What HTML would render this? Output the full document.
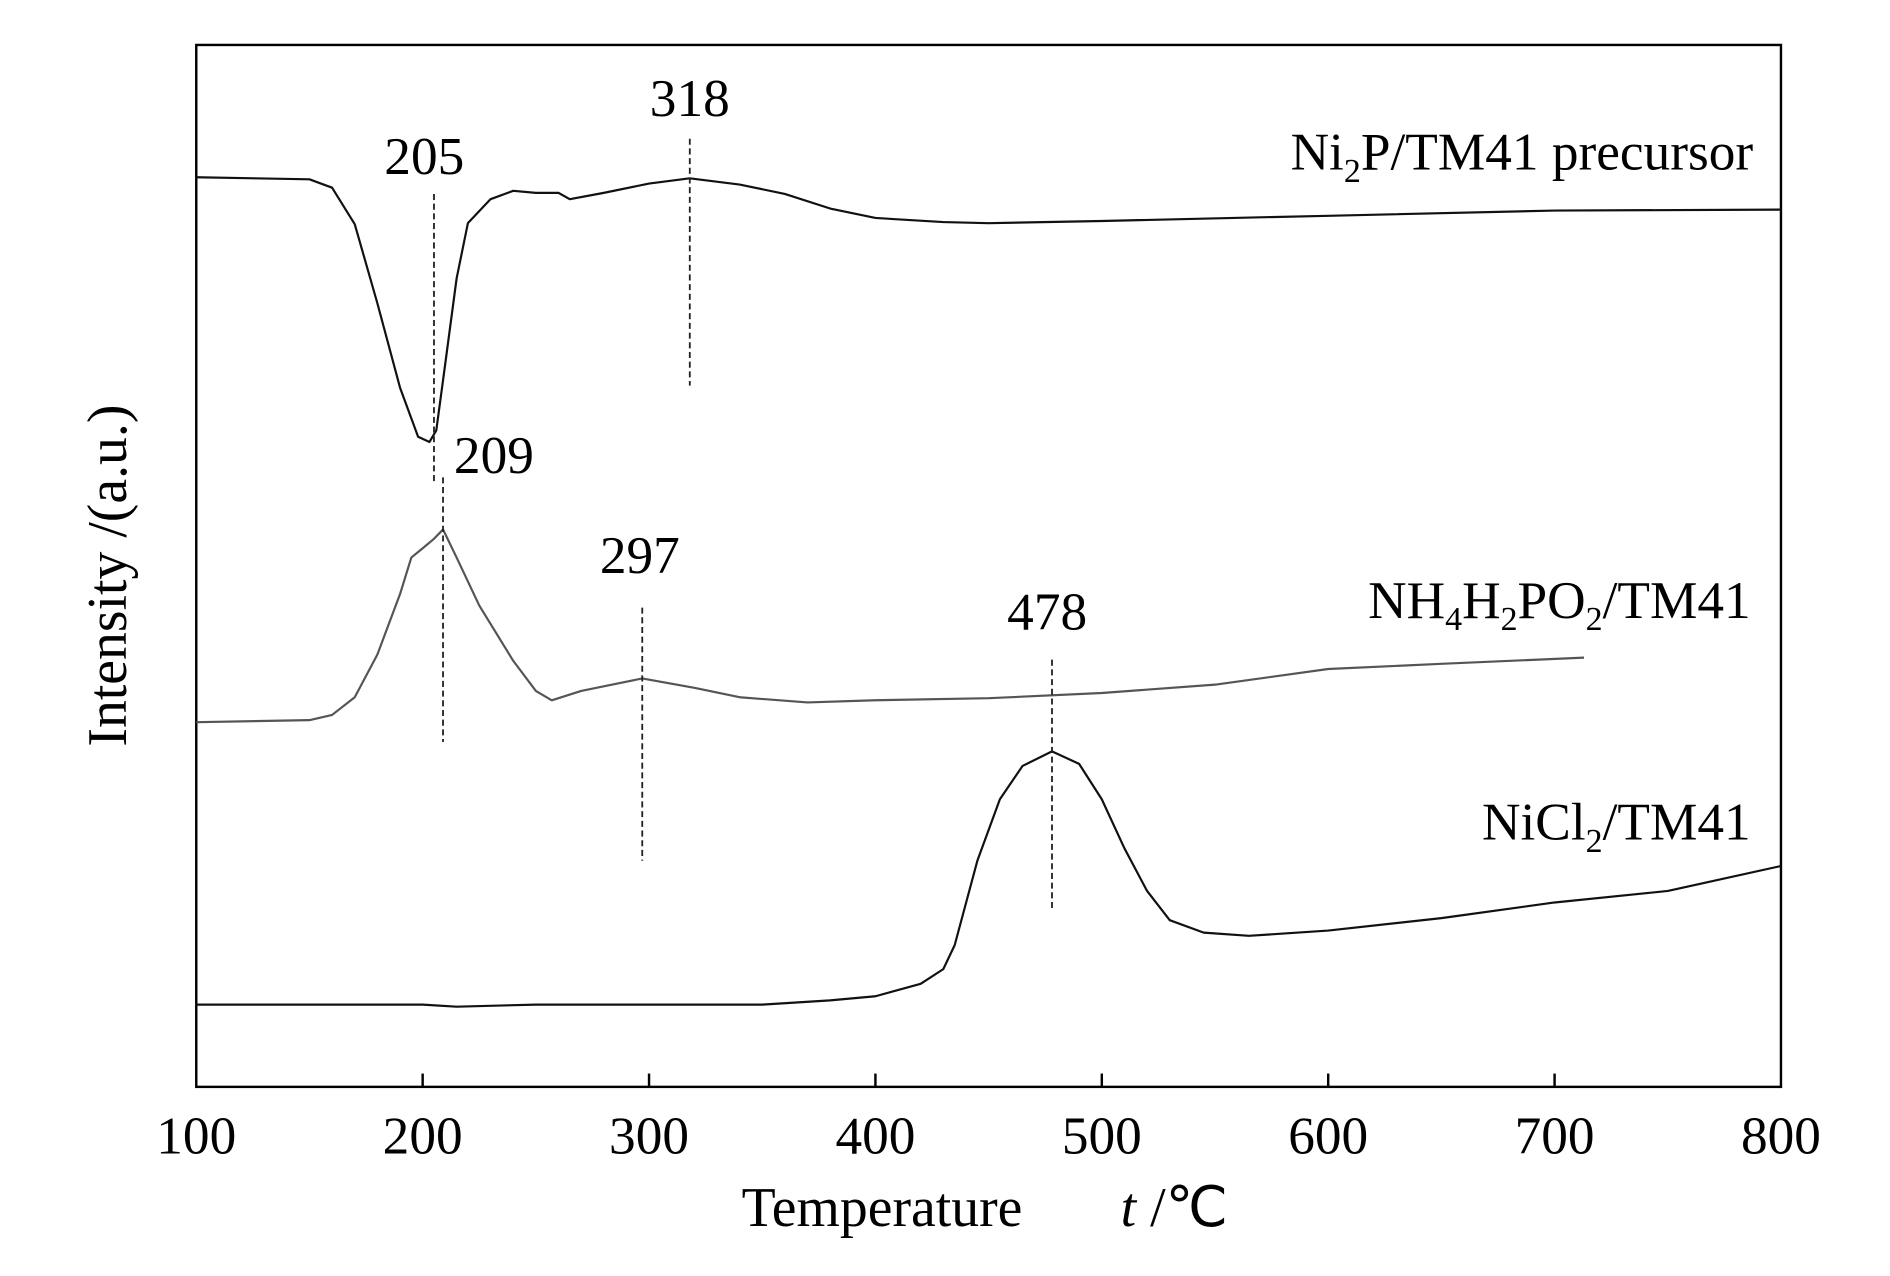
<!DOCTYPE html>
<html><head><meta charset="utf-8"><style>html,body{margin:0;padding:0;background:#fff}svg{display:block}</style></head>
<body>
<svg id="chart" width="1890" height="1276" viewBox="0 0 1560 1053" xmlns="http://www.w3.org/2000/svg" font-family="'Liberation Serif', serif">
<rect x="162" y="37" width="1308" height="860" fill="none" stroke="#000" stroke-width="2"/>
<g id="ticks"></g>
<g id="series"></g>
<g id="annos"></g>
<text x="728" y="1012" font-size="46" text-anchor="middle">Temperature</text>
<text x="925" y="1012" font-size="46"><tspan font-style="italic">t</tspan> /℃</text>
<text transform="translate(104,475) rotate(-90)" font-size="46" text-anchor="middle">Intensity /(a.u.)</text>
<text x="1447" y="140" font-size="44" text-anchor="end">Ni<tspan font-size="28" dy="10">2</tspan><tspan dy="-10">P/TM41 precursor</tspan></text>
<text x="1445" y="510" font-size="44" text-anchor="end">NH<tspan font-size="28" dy="10">4</tspan><tspan dy="-10">H</tspan><tspan font-size="28" dy="10">2</tspan><tspan dy="-10">PO</tspan><tspan font-size="28" dy="10">2</tspan><tspan dy="-10">/TM41</tspan></text>
<text x="1445" y="693" font-size="44" text-anchor="end">NiCl<tspan font-size="28" dy="10">2</tspan><tspan dy="-10">/TM41</tspan></text>
</svg>
<script>
const xTicks=[100,200,300,400,500,600,700,800];
const s1T=[100,150,160,170,180,190,198,203,206,210,215,220,230,240,250,260,265,280,300,318,340,360,380,400,430,450,500,600,700,800];
const s1V=[87.3,87.1,86.3,82.8,75.2,67.1,62.4,61.9,63.0,69.4,77.6,82.9,85.2,86.0,85.8,85.8,85.2,85.8,86.7,87.2,86.6,85.7,84.3,83.4,83.0,82.9,83.1,83.6,84.1,84.2];
const s2T=[100,150,160,170,180,190,195,200,205,209,215,225,240,250,257,270,297,320,340,370,400,450,500,550,600,650,713];
const s2V=[35.0,35.2,35.7,37.4,41.5,47.3,50.8,51.7,52.6,53.5,50.8,46.2,40.9,38.0,37.1,38.0,39.2,38.3,37.4,36.9,37.1,37.3,37.8,38.6,40.1,40.6,41.2];
const s3T=[100,200,215,250,300,350,380,400,420,430,435,445,455,465,478,490,500,510,520,530,545,565,600,650,700,750,800];
const s3V=[7.9,7.9,7.7,7.9,7.9,7.9,8.3,8.7,9.9,11.3,13.6,21.7,27.6,30.8,32.2,31.0,27.6,22.9,18.8,16.0,14.8,14.5,15.0,16.2,17.7,18.8,21.2];
const peakT=[205,318,209,297,478];
const peakLabels=["205","318","209","297","478"];
const peakTop=[85.7,91,58.5,46,41];
const peakBot=[58,67.3,33.1,21.7,16.9];
const labelV=[87.6,93.2,58.9,49.3,43.9];
const labelDx=[-8,0,42,-2,-4];
const X=t=>162+(t-100)*1308/700;
const Y=v=>897-v*8.6;
const NS="http://www.w3.org/2000/svg";
const tk=document.getElementById('ticks'),sr=document.getElementById('series'),an=document.getElementById('annos');
xTicks.forEach((t,i)=>{
  if(i>0&&i<xTicks.length-1){
    const l=document.createElementNS(NS,'line');
    
    
    l.setAttribute('x1',X(t));l.setAttribute('x2',X(t));l.setAttribute('y1',897);l.setAttribute('y2',886);
    l.setAttribute('stroke','#000');l.setAttribute('stroke-width','2');tk.appendChild(l);
  }
  const tx=document.createElementNS(NS,'text');
  
  
  tx.setAttribute('x',X(t));tx.setAttribute('y',952);tx.setAttribute('font-size','44');tx.setAttribute('text-anchor','middle');
  tx.textContent=t;tk.appendChild(tx);
});
function line(T,V,name,color){
  const p=document.createElementNS(NS,'path');
  
  
  p.setAttribute('d',T.map((t,i)=>(i?'L':'M')+X(t).toFixed(1)+' '+Y(V[i]).toFixed(1)).join(''));
  p.setAttribute('fill','none');p.setAttribute('stroke',color);p.setAttribute('stroke-width','1.8');p.setAttribute('stroke-linejoin','round');
  sr.appendChild(p);
}
line(s1T,s1V,'series-ni2p-precursor','#111');
line(s2T,s2V,'series-nh4h2po2','#555');
line(s3T,s3V,'series-nicl2','#111');
peakT.forEach((t,i)=>{
  const l=document.createElementNS(NS,'line');
  
  
  l.setAttribute('x1',X(t));l.setAttribute('x2',X(t));l.setAttribute('y1',Y(peakTop[i]));l.setAttribute('y2',Y(peakBot[i]));
  l.setAttribute('stroke','#222');l.setAttribute('stroke-width','1.5');l.setAttribute('stroke-dasharray','5,3');an.appendChild(l);
  const tx=document.createElementNS(NS,'text');
  
  
  tx.setAttribute('x',X(t)+labelDx[i]);tx.setAttribute('y',Y(labelV[i]));tx.setAttribute('font-size','44');tx.setAttribute('text-anchor','middle');
  tx.textContent=peakLabels[i];an.appendChild(tx);
});
</script>
</body></html>
